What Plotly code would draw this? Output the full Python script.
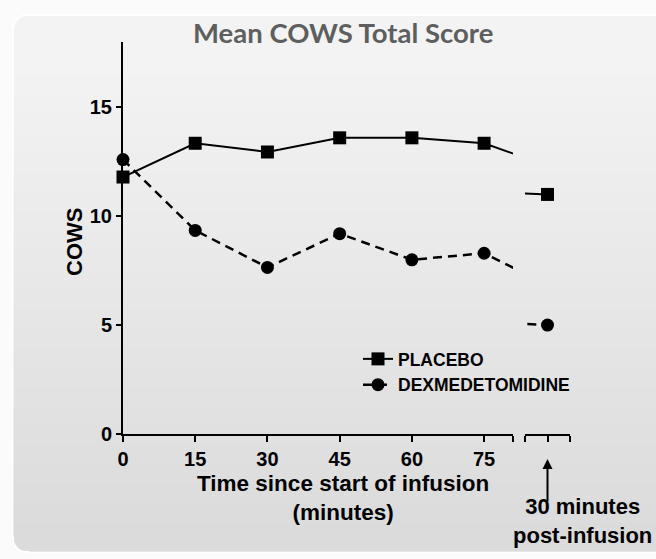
import plotly.graph_objects as go

# ---- data ----
time_min = [0, 15, 30, 45, 60, 75]
post_time = 105  # 30 minutes post-infusion
placebo = [11.8, 13.35, 12.95, 13.6, 13.6, 13.35]
placebo_post = 11.0
dex = [12.6, 9.35, 7.65, 9.2, 8.0, 8.3]
dex_post = 5.0
x_ticks = [0, 15, 30, 45, 60, 75, 81]
x_tick_labels = ["0", "15", "30", "45", "60", "75", ""]
y_ticks = [0, 5, 10, 15]

W, H = 656, 559
L, R, T, B = 123, 86, 42, 125
pw = W - L - R
ph = H - T - B

def px_to_paper_x(px):
    return (px - L) / pw

def px_to_paper_y(py):
    return (H - B - py) / ph

BOLD = "Liberation Sans"

fig = go.Figure()

series = [
    ("PLACEBO", placebo, placebo_post, "square", "solid", 13, 2),
    ("DEXMEDETOMIDINE", dex, dex_post, "circle", "9px,6px", 13, 2.5),
]
for name, vals, post, sym, dash, ms, lw in series:
    xs = time_min + [post_time]
    ys = vals + [post]
    fig.add_trace(go.Scatter(
        x=xs, y=ys, xaxis="x", yaxis="y", name=name, mode="lines+markers",
        line=dict(color="black", width=lw, dash=dash),
        marker=dict(symbol=sym, size=ms, color="black"),
        cliponaxis=False, showlegend=True,
    ))
    fig.add_trace(go.Scatter(
        x=xs, y=ys, xaxis="x2", yaxis="y", name=name, mode="lines",
        line=dict(color="black", width=lw, dash=dash),
        showlegend=False, cliponaxis=True,
    ))
    fig.add_trace(go.Scatter(
        x=[post_time], y=[post], xaxis="x2", yaxis="y", name=name, mode="markers",
        marker=dict(symbol=sym, size=ms, color="black"),
        showlegend=False, cliponaxis=False,
    ))

# background: rounded panel with gradient
x0, y0, x1, y1, r = 13, 15, 680, 552, 16
def rpath(top, rounded_top=True):
    if rounded_top:
        return (f"M{x0+r},{top} L{x1-r},{top} Q{x1},{top} {x1},{top+r} "
                f"L{x1},{y1-r} Q{x1},{y1} {x1-r},{y1} L{x0+r},{y1} "
                f"Q{x0},{y1} {x0},{y1-r} L{x0},{top+r} Q{x0},{top} {x0+r},{top} Z")
    return (f"M{x0},{top} L{x1},{top} L{x1},{y1-r} Q{x1},{y1} {x1-r},{y1} "
            f"L{x0+r},{y1} Q{x0},{y1} {x0},{y1-r} Z")

def to_paper_path(p):
    conv = []
    for tk in p.split(" "):
        cmd = ""
        if tk and tk[0].isalpha():
            cmd = tk[0]
            tk = tk[1:]
        if not tk:
            conv.append(cmd)
            continue
        a, b = tk.split(",")
        conv.append(f"{cmd}{px_to_paper_x(float(a)):.5f},{px_to_paper_y(float(b)):.5f}")
    return " ".join(conv)

shapes = [dict(type="path", xref="paper", yref="paper", path=to_paper_path(rpath(y0)),
               fillcolor="#f3f3f3", line=dict(color="white", width=2), layer="below")]
nb = 24
for k in range(nb):
    top = y0 + 60 + k * (y1 - y0 - 70) / nb
    shapes.append(dict(type="path", xref="paper", yref="paper",
                       path=to_paper_path(rpath(top, rounded_top=False)),
                       fillcolor="rgba(0,0,0,0.0045)", line=dict(width=0), layer="below"))

tickfont = dict(family=BOLD, size=20, color="black", weight="bold")
fig.update_layout(
    width=W, height=H,
    margin=dict(l=L, r=R, t=T, b=B, pad=0),
    paper_bgcolor="#fbfbfb", plot_bgcolor="rgba(0,0,0,0)",
    shapes=shapes,
    showlegend=True,
    legend=dict(x=px_to_paper_x(358), y=px_to_paper_y(341), xanchor="left", yanchor="top",
                bgcolor="rgba(0,0,0,0)", font=dict(family=BOLD, size=17.5, color="black", weight="bold"),
                itemwidth=30, tracegroupgap=0),
    xaxis=dict(domain=[0, px_to_paper_x(513)], range=[0, 81], showgrid=False, zeroline=False,
               showline=True, linecolor="black", linewidth=2, ticks="outside", ticklen=6,
               tickwidth=2, tickcolor="black", tickvals=x_ticks, ticktext=x_tick_labels,
               tickfont=tickfont, anchor="y"),
    xaxis2=dict(domain=[px_to_paper_x(525), 1.0], range=[post_time - 0.5, post_time + 0.5],
                showgrid=False, zeroline=False, showline=True, linecolor="black", linewidth=2,
                ticks="outside", ticklen=6, tickwidth=2, tickcolor="black",
                tickvals=[post_time - 0.5, post_time, post_time + 0.5], ticktext=["", "", ""],
                anchor="y"),
    yaxis=dict(domain=[0, 1], range=[0, 18], showgrid=False, zeroline=False, showline=True,
               linecolor="black", linewidth=2, ticks="outside", ticklen=5, tickwidth=2,
               tickcolor="black", tickvals=y_ticks, tickfont=tickfont, anchor="x"),
    font=dict(family=BOLD),
)

fig.add_annotation(text="Mean COWS Total Score", xref="paper", yref="paper",
                   x=px_to_paper_x(343), y=px_to_paper_y(32), showarrow=False,
                   xanchor="center", yanchor="middle",
                   font=dict(family="Lato", size=27.5, color="#5e5e5e", weight="bold"))
fig.add_annotation(text="COWS", xref="paper", yref="paper", x=px_to_paper_x(74),
                   y=px_to_paper_y(242), textangle=-90, showarrow=False,
                   xanchor="center", yanchor="middle",
                   font=dict(family=BOLD, size=22, color="black", weight="bold"))
fig.add_annotation(text="Time since start of infusion<br>(minutes)", xref="paper", yref="paper",
                   x=px_to_paper_x(343), y=px_to_paper_y(498), showarrow=False,
                   xanchor="center", yanchor="middle",
                   font=dict(family=BOLD, size=22.5, color="black", weight="bold"))
fig.add_annotation(text="30 minutes<br>post-infusion", xref="paper", yref="paper",
                   x=px_to_paper_x(582), y=px_to_paper_y(521), showarrow=False,
                   xanchor="center", yanchor="middle",
                   font=dict(family=BOLD, size=22, color="black", weight="bold"))
fig.add_annotation(text="", xref="x2", yref="paper", x=post_time, y=px_to_paper_y(459),
                   showarrow=True, ax=0, ay=44, axref="pixel", ayref="pixel",
                   arrowhead=2, arrowsize=1, arrowwidth=2, arrowcolor="black")

fig.write_html("out.html")
